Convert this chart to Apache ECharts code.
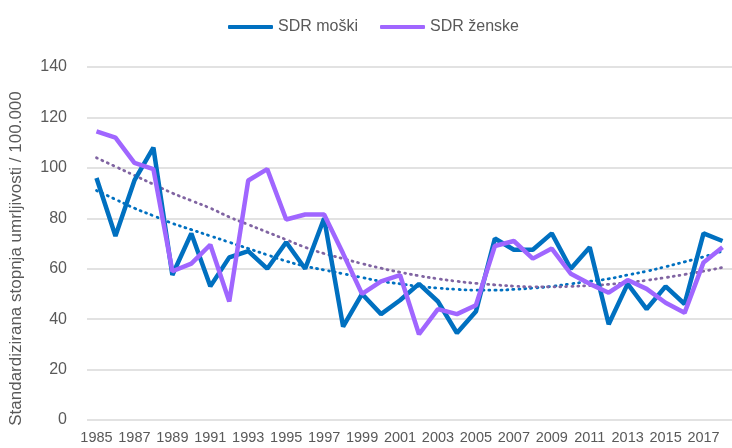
<!DOCTYPE html>
<html>
<head>
<meta charset="utf-8">
<script src="https://cdn.jsdelivr.net/npm/echarts@6/dist/echarts.min.js"></script>
<style>
  html, body { margin: 0; padding: 0; background: #fff; }
  #chart { width: 732px; height: 448px; }
</style>
</head>
<body>
<div id="chart"></div>
<script>
const years = ['1985', '1986', '1987', '1988', '1989', '1990', '1991', '1992', '1993', '1994',
  '1995', '1996', '1997', '1998', '1999', '2000', '2001', '2002', '2003', '2004',
  '2005', '2006', '2007', '2008', '2009', '2010', '2011', '2012', '2013', '2014',
  '2015', '2016', '2017', '2018']

const sdrMoski = [96, 73, 95, 108, 57.5, 74, 53, 64.5, 67, 60,
  70.5, 60, 80, 37, 50, 42, 47.5, 54, 47, 34.5,
  43, 72, 67.5, 67.5, 74, 60, 68.5, 38, 54, 44,
  53, 46, 74, 71]

const sdrZenske = [114.5, 112, 102, 99.5, 59, 62, 69.5, 47, 95, 99.5,
  79.5, 81.5, 81.5, 66, 50, 55, 57.5, 34, 44, 42,
  45.5, 69, 71, 64, 68, 58, 54, 50.5, 55.5, 52,
  46.5, 42.5, 62.5, 68.5]

// trend lines
const trendMoski = [91, 87.5, 84, 81, 78, 75.5, 73, 70.5, 68, 65.5,
  63, 61, 59.5, 58, 56.5, 55, 54, 53, 52.3, 51.8,
  51.5, 51.5, 51.8, 52.3, 53, 54, 55, 56, 57.5, 59,
  60.8, 62.7, 64.7, 67]

const trendZenske = [104, 100.5, 97, 93.5, 90, 87, 84, 80.5, 77.5, 74.5,
  71.5, 68.5, 66, 64, 62, 60.2, 58.6, 57.2, 56, 55,
  54.2, 53.6, 53.1, 52.8, 52.8, 53, 53.3, 53.8, 54.5, 55.4,
  56.5, 57.7, 59, 60.5]

const yMin = 0
const yMax = 140
const yStep = 20

const chart = echarts.init(document.getElementById('chart'))

const font = 'Liberation Sans, Arial, sans-serif'

const option = {
  animation: false,
  textStyle: { fontFamily: font },
  legend: {
    data: ['SDR moški', 'SDR ženske'],
    top: 14,
    left: 223,
    itemWidth: 45,
    itemHeight: 4,
    itemGap: 22,
    icon: 'roundRect',
    textStyle: { color: '#595959', fontSize: 16, fontFamily: font }
  },
  grid: {
    left: 83,
    right: -4,
    top: 67,
    bottom: 28,
    containLabel: false
  },
  xAxis: {
    type: 'category',
    data: years,
    boundaryGap: true,
    axisLine: { show: false },
    axisTick: { show: false },
    axisLabel: {
      interval: 1,
      color: '#595959',
      fontSize: 14.5,
      margin: 10,
      fontFamily: font
    }
  },
  yAxis: {
    type: 'value',
    min: yMin,
    max: yMax,
    interval: yStep,
    name: 'Standardizirana stopnja umrljivosti / 100.000',
    nameLocation: 'middle',
    nameGap: 62,
    nameTextStyle: {
      color: '#595959',
      fontSize: 17,
      fontFamily: font,
      padding: [0, 30, 0, 0]
    },
    axisLine: { show: false },
    axisTick: { show: false },
    axisLabel: { color: '#595959', fontSize: 16, margin: 20, fontFamily: font },
    splitLine: { lineStyle: { color: '#d9d9d9', width: 1.5 } }
  },
  series: [
    {
      name: 'SDR moški trend',
      type: 'line',
      data: trendMoski,
      symbol: 'none',
      smooth: true,
      lineStyle: { color: '#0070C0', width: 2.8, type: [1, 5], cap: 'round' },
      z: 1
    },
    {
      name: 'SDR ženske trend',
      type: 'line',
      data: trendZenske,
      symbol: 'none',
      smooth: true,
      lineStyle: { color: '#8064A2', width: 2.8, type: [1, 5], cap: 'round' },
      z: 1
    },
    {
      name: 'SDR moški',
      type: 'line',
      data: sdrMoski,
      symbol: 'none',
      itemStyle: { color: '#0070C0' },
      lineStyle: { color: '#0070C0', width: 4.5 },
      z: 2
    },
    {
      name: 'SDR ženske',
      type: 'line',
      data: sdrZenske,
      symbol: 'none',
      itemStyle: { color: '#A066FF' },
      lineStyle: { color: '#A066FF', width: 4.5 },
      z: 3
    }
  ]
}

chart.setOption(option)
</script>
</body>
</html>
